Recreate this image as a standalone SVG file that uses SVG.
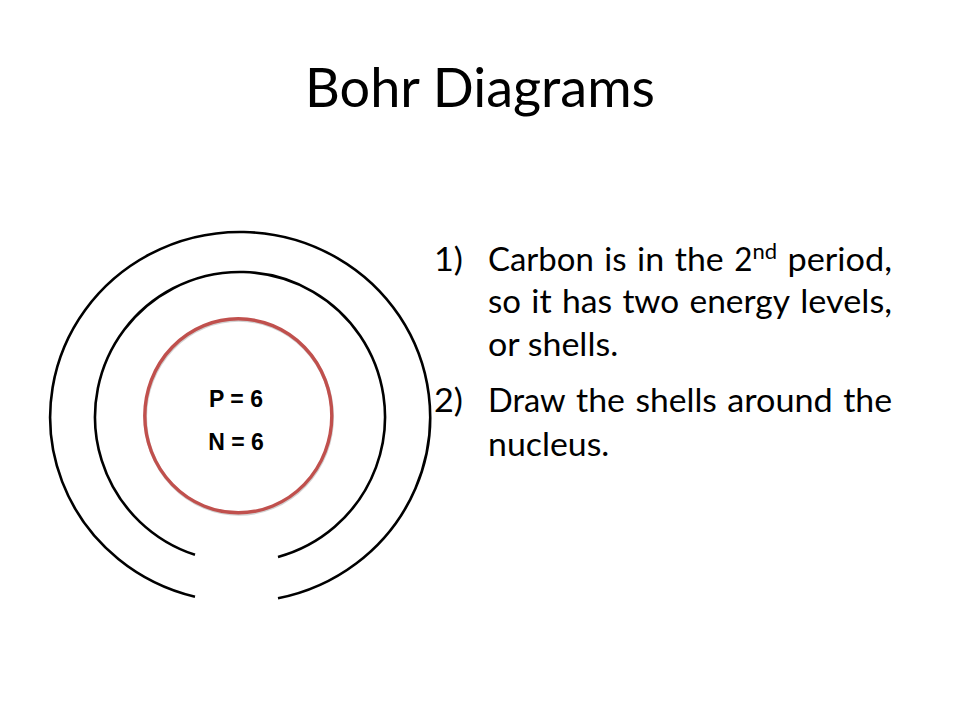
<svg xmlns="http://www.w3.org/2000/svg" width="960" height="720" viewBox="0 0 960 720">
<style>
.shell{fill:none;stroke:#000;stroke-width:2.6}
.title{font-family:Lato,"Liberation Sans",sans-serif;font-size:54px;fill:#000}
.body{font-family:Lato,"Liberation Sans",sans-serif;font-size:33px;fill:#000}
.sup{font-family:Lato,"Liberation Sans",sans-serif;font-size:22px;fill:#000}
.nuc{font-family:"Liberation Sans",Arial,sans-serif;font-weight:bold;font-size:23px;fill:#000;text-anchor:middle}
</style>
<rect width="960" height="720" fill="#fff"/>
<g id="title"><text class="title" x="480" y="107" text-anchor="middle" textLength="350" lengthAdjust="spacingAndGlyphs">Bohr Diagrams</text></g>
<g id="shell-outer"><path class="shell" d="M195 596.7 A190 185 0 1 1 278 598.3"/></g>
<g id="shell-inner"><path class="shell" d="M195 554.8 A145 145 0 1 1 278 556.9"/></g>
<g id="nucleus">
<ellipse cx="238.8" cy="417" rx="93.5" ry="97" fill="none" stroke="#9a9a9a" stroke-opacity="0.45" stroke-width="3.5"/>
<ellipse cx="238.3" cy="415.8" rx="93.5" ry="97" fill="none" stroke="#c0504d" stroke-width="3.4"/>
<text class="nuc" x="236" y="407">P = 6</text>
<text class="nuc" x="236" y="450">N = 6</text>
</g>
<g id="steps">
<text class="body" x="434" y="271" textLength="29" lengthAdjust="spacingAndGlyphs">1)</text>
<text class="body" x="488" y="271" textLength="105.8" lengthAdjust="spacingAndGlyphs">Carbon</text>
<text class="body" x="604.3" y="271" textLength="22.3" lengthAdjust="spacingAndGlyphs">is</text>
<text class="body" x="637.1" y="271" textLength="27.2" lengthAdjust="spacingAndGlyphs">in</text>
<text class="body" x="674.8" y="271" textLength="48.9" lengthAdjust="spacingAndGlyphs">the</text>
<text class="body" x="734.2" y="271" textLength="18.2" lengthAdjust="spacingAndGlyphs">2</text>
<text class="sup" x="752.4" y="259" textLength="24.6" lengthAdjust="spacingAndGlyphs">nd</text>
<text class="body" x="787.5" y="271" textLength="104.5" lengthAdjust="spacingAndGlyphs">period,</text>

<text class="body" x="488" y="313" textLength="33" lengthAdjust="spacingAndGlyphs">so</text>
<text class="body" x="531.3" y="313" textLength="20.3" lengthAdjust="spacingAndGlyphs">it</text>
<text class="body" x="561.9" y="313" textLength="50.2" lengthAdjust="spacingAndGlyphs">has</text>
<text class="body" x="622.4" y="313" textLength="56.8" lengthAdjust="spacingAndGlyphs">two</text>
<text class="body" x="689.5" y="313" textLength="100.5" lengthAdjust="spacingAndGlyphs">energy</text>
<text class="body" x="800.3" y="313" textLength="91.7" lengthAdjust="spacingAndGlyphs">levels,</text>

<text class="body" x="488" y="356" textLength="130.2" lengthAdjust="spacingAndGlyphs">or shells.</text>

<text class="body" x="434" y="412" textLength="29" lengthAdjust="spacingAndGlyphs">2)</text>
<text class="body" x="488" y="412" textLength="77.7" lengthAdjust="spacingAndGlyphs">Draw</text>
<text class="body" x="576.1" y="412" textLength="48.9" lengthAdjust="spacingAndGlyphs">the</text>
<text class="body" x="635.4" y="412" textLength="81.5" lengthAdjust="spacingAndGlyphs">shells</text>
<text class="body" x="727.3" y="412" textLength="105.5" lengthAdjust="spacingAndGlyphs">around</text>
<text class="body" x="843.2" y="412" textLength="48.9" lengthAdjust="spacingAndGlyphs">the</text>

<text class="body" x="488" y="456" textLength="121.3" lengthAdjust="spacingAndGlyphs">nucleus.</text>
</g>
</svg>
